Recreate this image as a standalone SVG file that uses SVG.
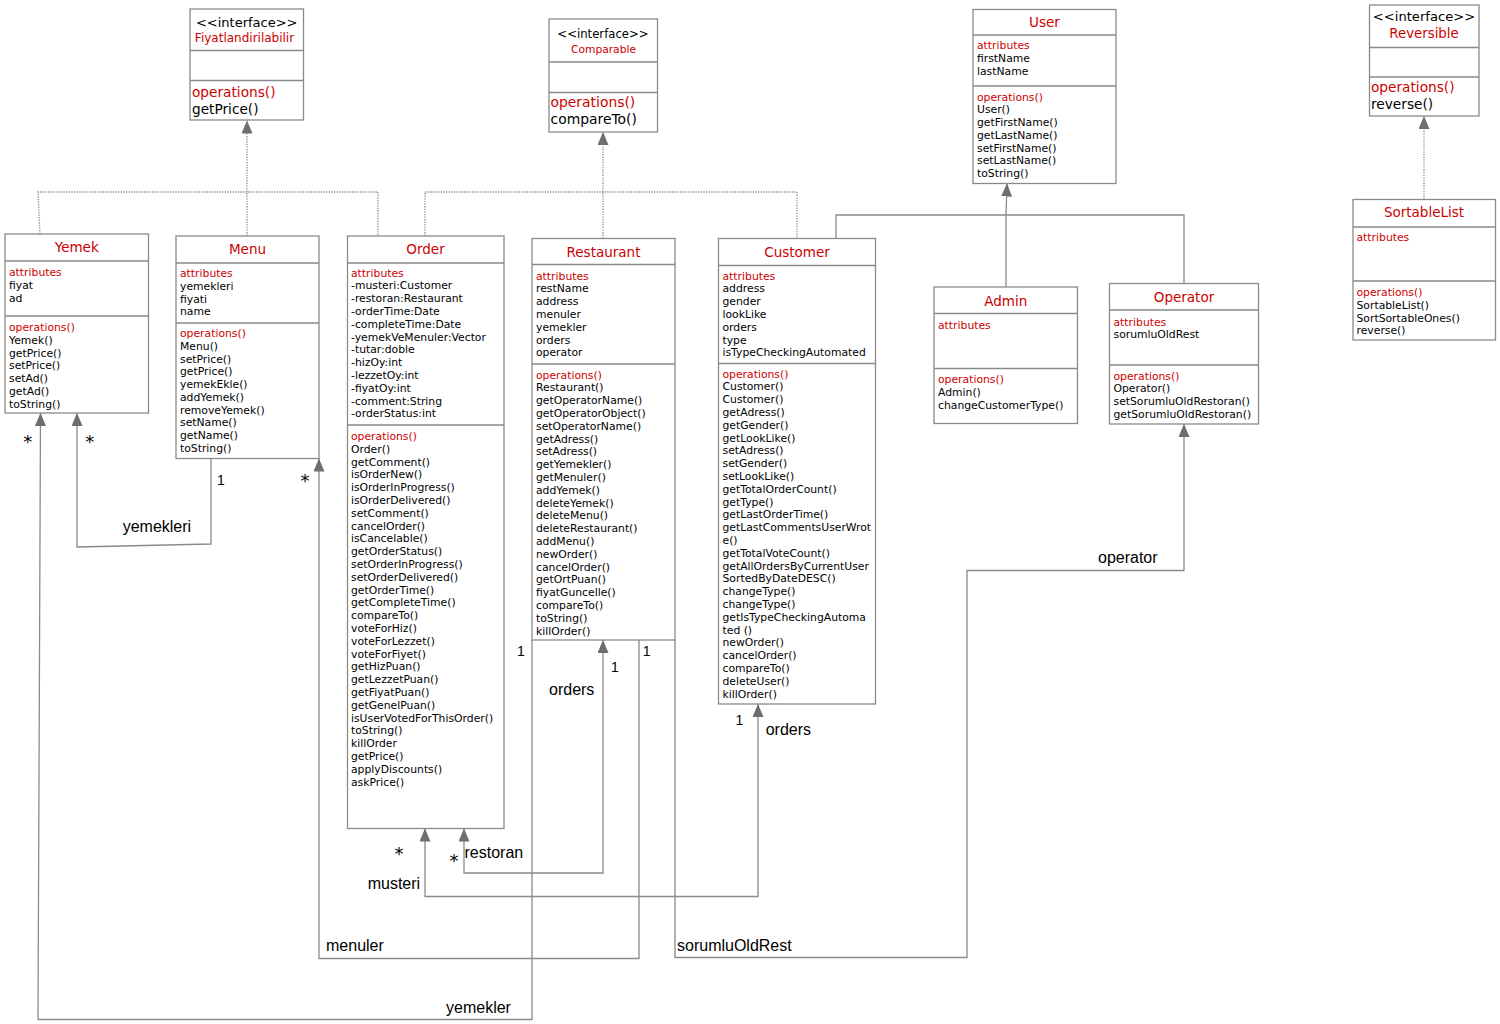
<svg xmlns="http://www.w3.org/2000/svg" width="1500" height="1024" viewBox="0 0 1500 1024">
<style>
.box{fill:#fff;stroke:#8a8a8a;stroke-width:1.3}
.div{stroke:#8a8a8a;stroke-width:1.3}
text{font-family:"DejaVu Sans",Verdana,sans-serif;fill:#000}
.b{font-size:10.8px}
.r{fill:#cc0000}
.ti{font-size:13.5px;text-anchor:middle;fill:#cc0000}
.big{font-size:13.7px}
.c{text-anchor:middle}
.conn{fill:none;stroke:#8a8a8a;stroke-width:1.3}
.dot{stroke-dasharray:1.3 1.3}
.lbl{font-family:"Liberation Sans",Arial,sans-serif;font-size:16px}
.m{font-family:"Liberation Sans",Arial,sans-serif;font-size:14px;text-anchor:middle}
.st{font-family:"DejaVu Sans",sans-serif;font-size:18px;text-anchor:middle}
</style>
<defs>
<marker id="arr" viewBox="0 0 13 11" refX="13" refY="5.5" markerWidth="13" markerHeight="11" markerUnits="userSpaceOnUse" orient="auto-start-reverse"><path d="M0,0 L13,5.5 L0,11 z" fill="#6e6e6e"/></marker>
</defs>

<g id="connectors">
<path class="conn dot" d="M40,234 L38,192 L378,192 L378,236"/>
<path class="conn dot" d="M247,236 L247,120.5" marker-end="url(#arr)"/>
<path class="conn dot" d="M425,236 L425,192 L797,192 L797,238.5"/>
<path class="conn dot" d="M603,238.5 L603,132" marker-end="url(#arr)"/>
<path class="conn dot" d="M1424,199.5 L1424,116" marker-end="url(#arr)"/>
<path class="conn" d="M836,238.5 L836,215 L1184,215 L1184,283.5"/>
<path class="conn" d="M1006,287 L1006,215 L1007,183.5" marker-end="url(#arr)"/>
<path class="conn" d="M211,458.5 L211,544 L77,547 L77,413" marker-end="url(#arr)"/>
<path class="conn" d="M532,640 L532,1019.5 L38,1019.5 L40.5,413" marker-end="url(#arr)"/>
<path class="conn" d="M639,640 L639,958.5 L319,958.5 L319,458.5" marker-end="url(#arr)"/>
<path class="conn" d="M464,828.5 L464,873 L603,873 L603,640" marker-start="url(#arr)" marker-end="url(#arr)"/>
<path class="conn" d="M425,828.5 L425,896.5 L758,896.5 L758,704" marker-start="url(#arr)" marker-end="url(#arr)"/>
<path class="conn" d="M675,640 L675,957.5 L967,957.5 L967,570.5 L1184,570.5 L1184,424" marker-end="url(#arr)"/>
<text class="lbl" x="122.7" y="532">yemekleri</text>
<text class="lbl" x="549" y="695">orders</text>
<text class="lbl" x="765.7" y="734.5">orders</text>
<text class="lbl" x="464.5" y="858">restoran</text>
<text class="lbl" x="367.7" y="888.5">musteri</text>
<text class="lbl" x="326" y="950.5">menuler</text>
<text class="lbl" x="677" y="950.5">sorumluOldRest</text>
<text class="lbl" x="446" y="1012.5">yemekler</text>
<text class="lbl" x="1098" y="563">operator</text>
<text class="st" x="27.8" y="448">*</text>
<text class="st" x="89.7" y="448">*</text>
<text class="st" x="305" y="487">*</text>
<text class="st" x="399" y="859.5">*</text>
<text class="st" x="454" y="866.5">*</text>
<text class="m" x="221" y="485">1</text>
<text class="m" x="521" y="656">1</text>
<text class="m" x="615" y="671.7">1</text>
<text class="m" x="646.7" y="656">1</text>
<text class="m" x="739.5" y="725">1</text>
</g>

<g id="Fiyatlandirilabilir">
<rect class="box" x="190" y="9" width="113.5" height="111"/>
<line class="div" x1="190" y1="50.5" x2="303.5" y2="50.5"/>
<line class="div" x1="190" y1="80.5" x2="303.5" y2="80.5"/>
<text class="c" x="246.7" y="27" font-size="13">&lt;&lt;interface&gt;&gt;</text>
<text class="c r" x="244.5" y="41.5" font-size="12">Fiyatlandirilabilir</text>
<text class="big r" x="192" y="97">operations()</text>
<text class="big" x="192" y="113.5">getPrice()</text>
</g>

<g id="Comparable">
<rect class="box" x="549" y="19" width="108.5" height="113"/>
<line class="div" x1="549" y1="62" x2="657.5" y2="62"/>
<line class="div" x1="549" y1="92.5" x2="657.5" y2="92.5"/>
<text class="c" x="603" y="37.5" font-size="11.7">&lt;&lt;interface&gt;&gt;</text>
<text class="c r" x="603.5" y="52.5" font-size="10.7">Comparable</text>
<text class="r" x="550.5" y="107" font-size="13.9">operations()</text>
<text x="550.5" y="123.5" font-size="13.9">compareTo()</text>
</g>

<g id="User">
<rect class="box" x="973" y="9.5" width="143" height="174"/>
<line class="div" x1="973" y1="35" x2="1116" y2="35"/>
<line class="div" x1="973" y1="86" x2="1116" y2="86"/>
<text class="ti" x="1044.5" y="27">User</text>
<text class="b" x="977" y="49.3"><tspan class="r">attributes</tspan><tspan x="977" dy="12.75">firstName</tspan><tspan x="977" dy="12.75">lastName</tspan></text>
<text class="b" x="977" y="100.7"><tspan class="r">operations()</tspan><tspan x="977" dy="12.75">User()</tspan><tspan x="977" dy="12.75">getFirstName()</tspan><tspan x="977" dy="12.75">getLastName()</tspan><tspan x="977" dy="12.75">setFirstName()</tspan><tspan x="977" dy="12.75">setLastName()</tspan><tspan x="977" dy="12.75">toString()</tspan></text>
</g>

<g id="Reversible">
<rect class="box" x="1369.5" y="5" width="109.5" height="111"/>
<line class="div" x1="1369.5" y1="47.5" x2="1479" y2="47.5"/>
<line class="div" x1="1369.5" y1="77" x2="1479" y2="77"/>
<text class="c" x="1424" y="21" font-size="13.1">&lt;&lt;interface&gt;&gt;</text>
<text class="c r" x="1424" y="38" font-size="13.3">Reversible</text>
<text class="big r" x="1371" y="92">operations()</text>
<text class="big" x="1371" y="108.5">reverse()</text>
</g>

<g id="SortableList">
<rect class="box" x="1353" y="199.5" width="142.5" height="140.5"/>
<line class="div" x1="1353" y1="227" x2="1495.5" y2="227"/>
<line class="div" x1="1353" y1="281" x2="1495.5" y2="281"/>
<text class="ti" x="1424" y="217">SortableList</text>
<text class="b r" x="1356.5" y="241">attributes</text>
<text class="b" x="1356.5" y="296"><tspan class="r">operations()</tspan><tspan x="1356.5" dy="12.75">SortableList()</tspan><tspan x="1356.5" dy="12.75">SortSortableOnes()</tspan><tspan x="1356.5" dy="12.75">reverse()</tspan></text>
</g>

<g id="Yemek">
<rect class="box" x="5" y="234" width="143.5" height="179"/>
<line class="div" x1="5" y1="261" x2="148.5" y2="261"/>
<line class="div" x1="5" y1="316" x2="148.5" y2="316"/>
<text class="ti" x="76.7" y="252">Yemek</text>
<text class="b" x="9" y="276"><tspan class="r">attributes</tspan><tspan x="9" dy="12.75">fiyat</tspan><tspan x="9" dy="12.75">ad</tspan></text>
<text class="b" x="9" y="331"><tspan class="r">operations()</tspan><tspan x="9" dy="12.75">Yemek()</tspan><tspan x="9" dy="12.75">getPrice()</tspan><tspan x="9" dy="12.75">setPrice()</tspan><tspan x="9" dy="12.75">setAd()</tspan><tspan x="9" dy="12.75">getAd()</tspan><tspan x="9" dy="12.75">toString()</tspan></text>
</g>

<g id="Menu">
<rect class="box" x="176" y="236" width="143" height="222.5"/>
<line class="div" x1="176" y1="263" x2="319" y2="263"/>
<line class="div" x1="176" y1="323" x2="319" y2="323"/>
<text class="ti" x="247.5" y="254">Menu</text>
<text class="b" x="180" y="277"><tspan class="r">attributes</tspan><tspan x="180" dy="12.75">yemekleri</tspan><tspan x="180" dy="12.75">fiyati</tspan><tspan x="180" dy="12.75">name</tspan></text>
<text class="b" x="180" y="337"><tspan class="r">operations()</tspan><tspan x="180" dy="12.75">Menu()</tspan><tspan x="180" dy="12.75">setPrice()</tspan><tspan x="180" dy="12.75">getPrice()</tspan><tspan x="180" dy="12.75">yemekEkle()</tspan><tspan x="180" dy="12.75">addYemek()</tspan><tspan x="180" dy="12.75">removeYemek()</tspan><tspan x="180" dy="12.75">setName()</tspan><tspan x="180" dy="12.75">getName()</tspan><tspan x="180" dy="12.75">toString()</tspan></text>
</g>

<g id="Order">
<rect class="box" x="347.5" y="236" width="156.5" height="592.5"/>
<line class="div" x1="347.5" y1="263" x2="504" y2="263"/>
<line class="div" x1="347.5" y1="425" x2="504" y2="425"/>
<text class="ti" x="425.5" y="254">Order</text>
<text class="b" x="351" y="276.5"><tspan class="r">attributes</tspan><tspan x="351" dy="12.8">-musteri:Customer</tspan><tspan x="351" dy="12.8">-restoran:Restaurant</tspan><tspan x="351" dy="12.8">-orderTime:Date</tspan><tspan x="351" dy="12.8">-completeTime:Date</tspan><tspan x="351" dy="12.8">-yemekVeMenuler:Vector</tspan><tspan x="351" dy="12.8">-tutar:doble</tspan><tspan x="351" dy="12.8">-hizOy:int</tspan><tspan x="351" dy="12.8">-lezzetOy:int</tspan><tspan x="351" dy="12.8">-fiyatOy:int</tspan><tspan x="351" dy="12.8">-comment:String</tspan><tspan x="351" dy="12.8">-orderStatus:int</tspan></text>
<text class="b" x="351" y="440"><tspan class="r">operations()</tspan><tspan x="351" dy="12.8">Order()</tspan><tspan x="351" dy="12.8">getComment()</tspan><tspan x="351" dy="12.8">isOrderNew()</tspan><tspan x="351" dy="12.8">isOrderInProgress()</tspan><tspan x="351" dy="12.8">isOrderDelivered()</tspan><tspan x="351" dy="12.8">setComment()</tspan><tspan x="351" dy="12.8">cancelOrder()</tspan><tspan x="351" dy="12.8">isCancelable()</tspan><tspan x="351" dy="12.8">getOrderStatus()</tspan><tspan x="351" dy="12.8">setOrderInProgress()</tspan><tspan x="351" dy="12.8">setOrderDelivered()</tspan><tspan x="351" dy="12.8">getOrderTime()</tspan><tspan x="351" dy="12.8">getCompleteTime()</tspan><tspan x="351" dy="12.8">compareTo()</tspan><tspan x="351" dy="12.8">voteForHiz()</tspan><tspan x="351" dy="12.8">voteForLezzet()</tspan><tspan x="351" dy="12.8">voteForFiyet()</tspan><tspan x="351" dy="12.8">getHizPuan()</tspan><tspan x="351" dy="12.8">getLezzetPuan()</tspan><tspan x="351" dy="12.8">getFiyatPuan()</tspan><tspan x="351" dy="12.8">getGenelPuan()</tspan><tspan x="351" dy="12.8">isUserVotedForThisOrder()</tspan><tspan x="351" dy="12.8">toString()</tspan><tspan x="351" dy="12.8">killOrder</tspan><tspan x="351" dy="12.8">getPrice()</tspan><tspan x="351" dy="12.8">applyDiscounts()</tspan><tspan x="351" dy="12.8">askPrice()</tspan></text>
</g>

<g id="Restaurant">
<rect class="box" x="532" y="238.5" width="143" height="401.5"/>
<line class="div" x1="532" y1="264.5" x2="675" y2="264.5"/>
<line class="div" x1="532" y1="364" x2="675" y2="364"/>
<text class="ti" x="603.5" y="257">Restaurant</text>
<text class="b" x="536" y="279.5"><tspan class="r">attributes</tspan><tspan x="536" dy="12.8">restName</tspan><tspan x="536" dy="12.8">address</tspan><tspan x="536" dy="12.8">menuler</tspan><tspan x="536" dy="12.8">yemekler</tspan><tspan x="536" dy="12.8">orders</tspan><tspan x="536" dy="12.8">operator</tspan></text>
<text class="b" x="536" y="378.5"><tspan class="r">operations()</tspan><tspan x="536" dy="12.8">Restaurant()</tspan><tspan x="536" dy="12.8">getOperatorName()</tspan><tspan x="536" dy="12.8">getOperatorObject()</tspan><tspan x="536" dy="12.8">setOperatorName()</tspan><tspan x="536" dy="12.8">getAdress()</tspan><tspan x="536" dy="12.8">setAdress()</tspan><tspan x="536" dy="12.8">getYemekler()</tspan><tspan x="536" dy="12.8">getMenuler()</tspan><tspan x="536" dy="12.8">addYemek()</tspan><tspan x="536" dy="12.8">deleteYemek()</tspan><tspan x="536" dy="12.8">deleteMenu()</tspan><tspan x="536" dy="12.8">deleteRestaurant()</tspan><tspan x="536" dy="12.8">addMenu()</tspan><tspan x="536" dy="12.8">newOrder()</tspan><tspan x="536" dy="12.8">cancelOrder()</tspan><tspan x="536" dy="12.8">getOrtPuan()</tspan><tspan x="536" dy="12.8">fiyatGuncelle()</tspan><tspan x="536" dy="12.8">compareTo()</tspan><tspan x="536" dy="12.8">toString()</tspan><tspan x="536" dy="12.8">killOrder()</tspan></text>
</g>

<g id="Customer">
<rect class="box" x="718.5" y="238.5" width="157" height="465.5"/>
<line class="div" x1="718.5" y1="265.5" x2="875.5" y2="265.5"/>
<line class="div" x1="718.5" y1="363.5" x2="875.5" y2="363.5"/>
<text class="ti" x="797" y="256.5">Customer</text>
<text class="b" x="722.5" y="279.5"><tspan class="r">attributes</tspan><tspan x="722.5" dy="12.8">address</tspan><tspan x="722.5" dy="12.8">gender</tspan><tspan x="722.5" dy="12.8">lookLike</tspan><tspan x="722.5" dy="12.8">orders</tspan><tspan x="722.5" dy="12.8">type</tspan><tspan x="722.5" dy="12.8">isTypeCheckingAutomated</tspan></text>
<text class="b" x="722.5" y="377.5"><tspan class="r">operations()</tspan><tspan x="722.5" dy="12.8">Customer()</tspan><tspan x="722.5" dy="12.8">Customer()</tspan><tspan x="722.5" dy="12.8">getAdress()</tspan><tspan x="722.5" dy="12.8">getGender()</tspan><tspan x="722.5" dy="12.8">getLookLike()</tspan><tspan x="722.5" dy="12.8">setAdress()</tspan><tspan x="722.5" dy="12.8">setGender()</tspan><tspan x="722.5" dy="12.8">setLookLike()</tspan><tspan x="722.5" dy="12.8">getTotalOrderCount()</tspan><tspan x="722.5" dy="12.8">getType()</tspan><tspan x="722.5" dy="12.8">getLastOrderTime()</tspan><tspan x="722.5" dy="12.8">getLastCommentsUserWrot</tspan><tspan x="722.5" dy="12.8">e()</tspan><tspan x="722.5" dy="12.8">getTotalVoteCount()</tspan><tspan x="722.5" dy="12.8">getAllOrdersByCurrentUser</tspan><tspan x="722.5" dy="12.8">SortedByDateDESC()</tspan><tspan x="722.5" dy="12.8">changeType()</tspan><tspan x="722.5" dy="12.8">changeType()</tspan><tspan x="722.5" dy="12.8">getIsTypeCheckingAutoma</tspan><tspan x="722.5" dy="12.8">ted ()</tspan><tspan x="722.5" dy="12.8">newOrder()</tspan><tspan x="722.5" dy="12.8">cancelOrder()</tspan><tspan x="722.5" dy="12.8">compareTo()</tspan><tspan x="722.5" dy="12.8">deleteUser()</tspan><tspan x="722.5" dy="12.8">killOrder()</tspan></text>
</g>

<g id="Admin">
<rect class="box" x="934" y="287" width="143.5" height="136.5"/>
<line class="div" x1="934" y1="313.5" x2="1077.5" y2="313.5"/>
<line class="div" x1="934" y1="368.5" x2="1077.5" y2="368.5"/>
<text class="ti" x="1005.7" y="305.5">Admin</text>
<text class="b r" x="938" y="329">attributes</text>
<text class="b" x="938" y="383"><tspan class="r">operations()</tspan><tspan x="938" dy="12.8">Admin()</tspan><tspan x="938" dy="12.8">changeCustomerType()</tspan></text>
</g>

<g id="Operator">
<rect class="box" x="1109.5" y="283.5" width="149" height="140.5"/>
<line class="div" x1="1109.5" y1="310" x2="1258.5" y2="310"/>
<line class="div" x1="1109.5" y1="365" x2="1258.5" y2="365"/>
<text class="ti" x="1184" y="302">Operator</text>
<text class="b" x="1113.5" y="325.5"><tspan class="r">attributes</tspan><tspan x="1113.5" dy="12.8">sorumluOldRest</tspan></text>
<text class="b" x="1113.5" y="379.5"><tspan class="r">operations()</tspan><tspan x="1113.5" dy="12.8">Operator()</tspan><tspan x="1113.5" dy="12.8">setSorumluOldRestoran()</tspan><tspan x="1113.5" dy="12.8">getSorumluOldRestoran()</tspan></text>
</g>
</svg>
